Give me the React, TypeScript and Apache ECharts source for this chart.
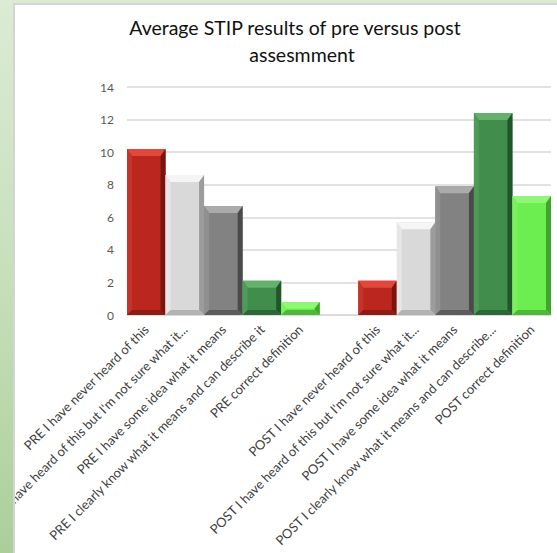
import React, { useEffect, useRef } from "react";
import * as echarts from "echarts";

const preLabels = [
  "PRE I have never heard of this",
  "PRE I have heard of this but I'm not sure what it...",
  "PRE I have some idea what it means",
  "PRE I clearly know what it means and can describe it",
  "PRE correct definition",
];
const postLabels = [
  "POST I have never heard of this",
  "POST I have heard of this but I'm not sure what it...",
  "POST I have some idea what it means",
  "POST I clearly know what it means and can describe...",
  "POST correct definition",
];
const preValues = [10.2, 8.6, 6.7, 2.1, 0.8];
const postValues = [2.1, 5.7, 7.9, 12.4, 7.3];
const yTicks = [0, 2, 4, 6, 8, 10, 12, 14];
const titleLine1 = "Average STIP results of pre versus post";
const titleLine2 = "assesmment";

const categories = [...preLabels, "", ...postLabels];

// palettes: base, top, left, right, bottom
const palettes = [
  ["#bb271f", "#e1483d", "#c7332a", "#7a140f", "#8e1b14"],
  ["#d9d9d9", "#f5f5f5", "#e6e6e6", "#9c9c9c", "#b3b3b3"],
  ["#828282", "#ababab", "#909090", "#4a4a4a", "#5c5c5c"],
  ["#418d4b", "#64b16e", "#4d9b57", "#23552a", "#2c6835"],
  ["#6cee50", "#90f776", "#78f15c", "#43a32e", "#4eb838"],
];

export default function App() {
  const ref = useRef<HTMLDivElement>(null);
  useEffect(() => {
    if (!ref.current) return;
    const chart = echarts.init(ref.current, undefined, { renderer: "svg" });
    const data: number[][] = [];
    preValues.forEach((v, i) => data.push([i, v, i]));
    postValues.forEach((v, i) => data.push([i + preLabels.length + 1, v, i]));
    const font = "Lato, 'Open Sans', sans-serif";
    chart.setOption({
      animation: false,
      backgroundColor: "#ffffff",
      title: [
        {
          text: titleLine1,
          left: 275,
          top: 7,
          textAlign: "center",
          textStyle: { fontFamily: font, fontSize: 19.5, fontWeight: "normal", color: "#111111" },
        },
        {
          text: titleLine2,
          left: 282,
          top: 34,
          textAlign: "center",
          textStyle: { fontFamily: font, fontSize: 19.5, fontWeight: "normal", color: "#111111" },
        },
      ],
      grid: { left: 112, right: 6, top: 82, bottom: 238, containLabel: false, outerBoundsMode: "none" },
      xAxis: {
        type: "category",
        data: categories,
        axisLine: { show: true, lineStyle: { color: "#d9d9d9", width: 1.5 } },
        axisTick: { show: false },
        axisLabel: {
          interval: 0,
          rotate: 45,
          fontFamily: font,
          fontSize: 13,
          color: "#404040",
          margin: 12,
          hideOverlap: false,
        },
      },
      yAxis: {
        type: "value",
        min: yTicks[0],
        max: yTicks[yTicks.length - 1],
        interval: yTicks[1] - yTicks[0],
        axisLine: { show: false },
        axisTick: { show: false },
        axisLabel: { fontFamily: font, fontSize: 12, color: "#595959", margin: 13 },
        splitLine: { lineStyle: { color: "#d9d9d9", width: 1.5 } },
      },
      series: [
        {
          type: "custom",
          coordinateSystem: "cartesian2d",
          encode: { x: 0, y: 1 },
          data,
          renderItem: (params: any, api: any) => {
            const idx = api.value(0);
            const v = api.value(1);
            const ci = api.value(2);
            const base = api.coord([idx, 0]);
            const top = api.coord([idx, v]);
            const w = api.size([1, 0])[0];
            const x0 = base[0] - w / 2;
            const x1 = base[0] + w / 2;
            const y0 = top[1];
            const y1 = base[1];
            const d = Math.min(7, (y1 - y0) / 2, w / 2);
            const ds = Math.min(5, (y1 - y0) / 2, w / 2);
            const p = palettes[ci];
            return {
              type: "group",
              children: [
                { type: "rect", shape: { x: x0, y: y0, width: x1 - x0, height: y1 - y0 }, style: { fill: p[0] } },
                { type: "polygon", shape: { points: [[x0, y0], [x1, y0], [x1 - ds, y0 + d], [x0 + ds, y0 + d]] }, style: { fill: p[1] } },
                { type: "polygon", shape: { points: [[x0, y0], [x0 + ds, y0 + d], [x0 + ds, y1 - ds], [x0, y1]] }, style: { fill: p[2] } },
                { type: "polygon", shape: { points: [[x1, y0], [x1, y1], [x1 - ds, y1 - ds], [x1 - ds, y0 + d]] }, style: { fill: p[3] } },
                { type: "polygon", shape: { points: [[x0, y1], [x1, y1], [x1 - ds, y1 - ds], [x0 + ds, y1 - ds]] }, style: { fill: p[4] } },
              ],
            };
          },
        },
      ],
    });
    return () => chart.dispose();
  }, []);

  return (
    <div
      style={{
        position: "absolute",
        left: 0,
        top: 0,
        width: 557,
        height: 553,
        overflow: "hidden",
        background: "linear-gradient(to bottom, #dcebd3 0%, #c6e0ba 50%, #aacf9b 100%)",
      }}
    >
      <div
        ref={ref}
        style={{
          position: "absolute",
          left: 13,
          top: 3,
          width: 542,
          height: 548,
          borderLeft: "2px solid #d4d4d4",
          borderTop: "2px solid #d4d4d4",
          background: "#ffffff",
        }}
      />
    </div>
  );
}
